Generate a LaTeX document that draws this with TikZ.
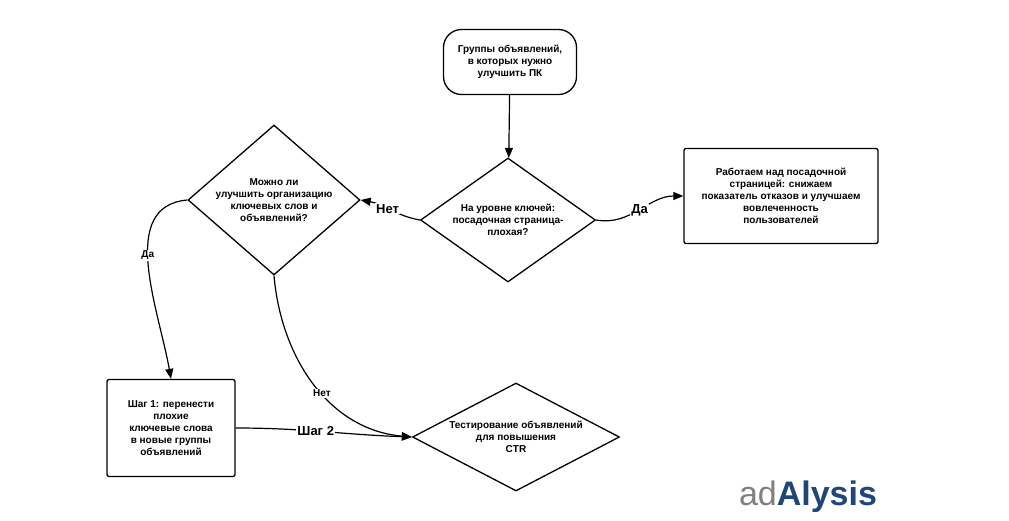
\documentclass[tikz,border=0pt]{standalone}
\usepackage{fontspec}
\setmainfont{Liberation Sans}
\usetikzlibrary{shapes.geometric,arrows.meta}
\tikzset{
% Flowchart styles: start, decision, action
start node/.style={draw,line width=1.3pt,rounded corners=18pt,minimum width=133pt,minimum height=65pt,align=center,font=\fontsize{10}{12}\selectfont\bfseries},
decision node/.style={diamond,draw,line width=1.3pt,inner sep=0pt,align=center,font=\fontsize{10}{12}\selectfont\bfseries},
action node/.style={draw,line width=1.3pt,rounded corners=2pt,align=center,font=\fontsize{10}{12}\selectfont\bfseries},
flow/.style={line width=1.2pt,-{Triangle[length=10pt,width=8pt]}},
edge label/.style={fill=white,inner sep=1pt,font=\fontsize{10}{12}\selectfont\bfseries},
big label/.style={edge label,font=\fontsize{13}{15}\selectfont\bfseries}
}
\begin{document}
\begin{tikzpicture}[x=1pt,y=-1pt]
\useasboundingbox (0,0) rectangle (1009,520);
% The nodes
\node(start)[start node] at (510,62){Группы объявлений,\\в которых нужно\\улучшить ПК};
\node(landing)[decision node,aspect=1.4,minimum width=175pt,minimum height=124pt] at (508,220){На уровне ключей:\\посадочная страница-\\плохая?};
\node(organize)[decision node,aspect=1.15,minimum width=172pt,minimum height=150pt] at (274,200){Можно ли\\улучшить организацию\\ключевых слов и\\объявлений?};
\node(work)[action node,minimum width=194pt,minimum height=95pt] at (781,196){Работаем над посадочной\\страницей: снижаем\\показатель отказов и улучшаем\\вовлеченность\\пользователей};
\node(step)[action node,minimum width=128pt,minimum height=97pt] at (171,428){Шаг 1: перенести\\плохие\\ключевые слова\\в новые группы\\объявлений};
\node(test)[decision node,aspect=1.9,minimum width=207pt,minimum height=108pt] at (516,437){Тестирование объявлений\\для повышения\\CTR};
% The connectors
\draw[flow](start)--(landing);
\draw[flow](landing.west) to[out=170,in=-10] node[big label,pos=0.55]{Нет} (organize.east);
\draw[flow](landing.east) to[out=-10,in=180] node[big label,pos=0.5]{Да} (work.west);
\draw[flow](organize.west) to[out=185,in=100] node[edge label,pos=0.45]{Да} (step.north);
\draw[flow](organize.south) to[out=-85,in=175] node[edge label,pos=0.55]{Нет} (test.west);
\draw[flow](step.east) to[out=0,in=178] node[big label,pos=0.45]{Шаг 2} (test.west);
% logo
\node(logo) at (808,497){\fontsize{34}{36}\selectfont\textcolor{gray}{ad}\textbf{\textcolor[RGB]{30,70,120}{Alysis}}};
\end{tikzpicture}
\end{document}
